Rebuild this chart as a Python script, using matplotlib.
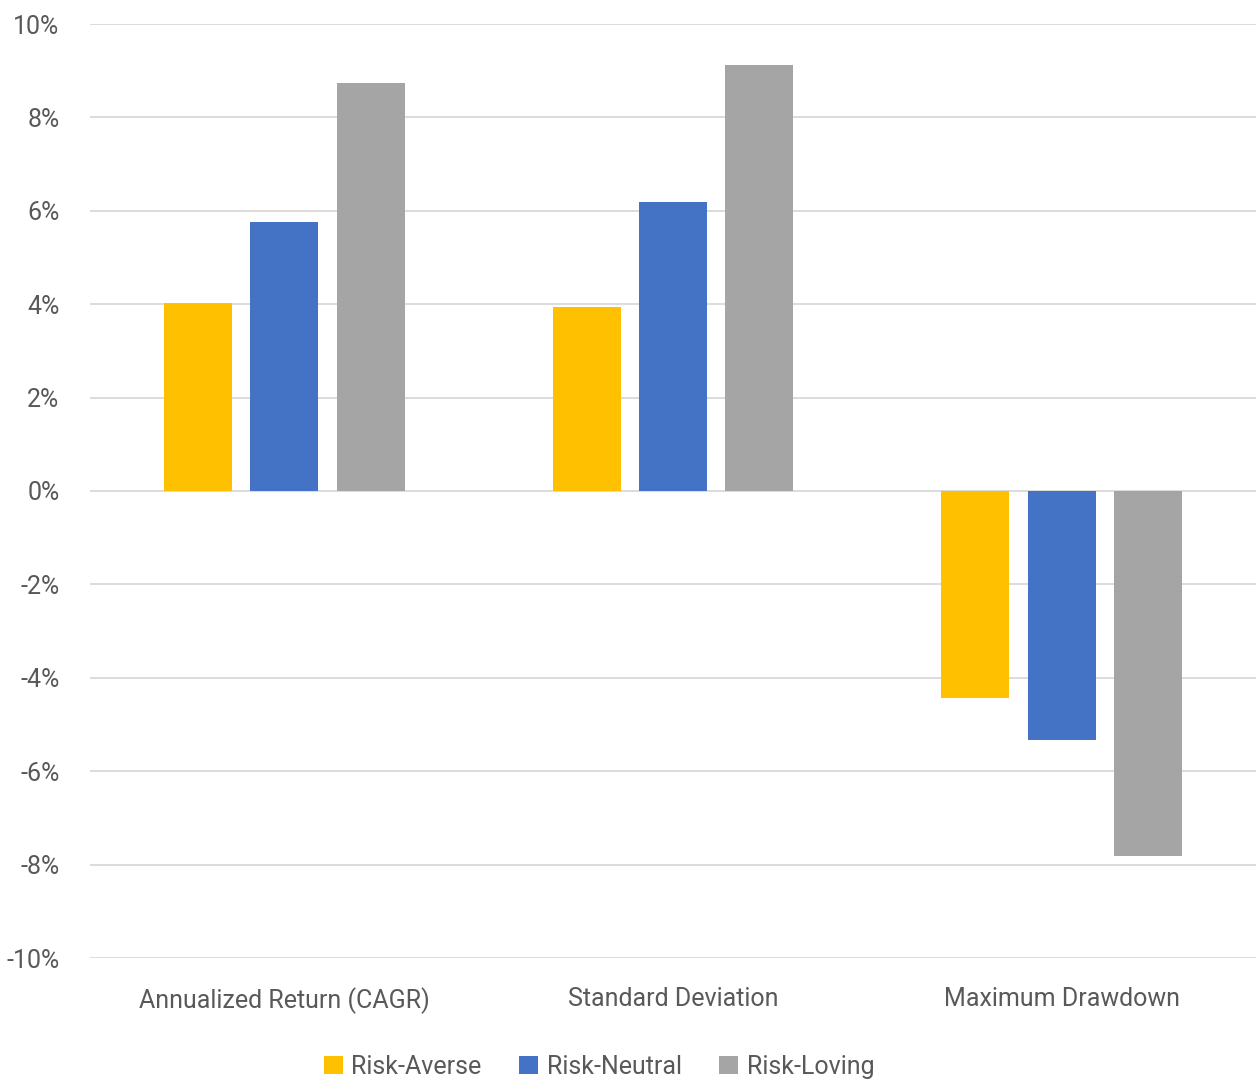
import matplotlib
matplotlib.use("Agg")
import matplotlib.pyplot as plt
import numpy as np
from matplotlib.ticker import FuncFormatter

categories = ["Annualized Return (CAGR)", "Standard Deviation", "Maximum Drawdown"]
series_names = ["Risk-Averse", "Risk-Neutral", "Risk-Loving"]
risk_averse = [4.03, 3.94, -4.43]
risk_neutral = [5.76, 6.19, -5.33]
risk_loving = [8.74, 9.12, -7.82]
colors = ["#FFC000", "#4472C4", "#A5A5A5"]

plt.rcParams['font.family'] = ['Roboto', 'DejaVu Sans']
text_color = "#595959"
fs = 18

fig = plt.figure(figsize=(12.56, 10.84), dpi=100)
ax = fig.add_axes([90/1256, (1084-958)/1084, (1256-90)/1256, (958-24)/1084])

x = np.arange(len(categories))
w = 0.175
step = 0.222
for i, (vals, name, c) in enumerate(zip([risk_averse, risk_neutral, risk_loving], series_names, colors)):
    ax.bar(x + (i-1)*step, vals, width=w, color=c, label=name, zorder=3)

ax.set_xlim(-0.5, 2.5)
ax.set_ylim(-10, 10)
ax.set_yticks(np.arange(-10, 11, 2))
ax.yaxis.set_major_formatter(FuncFormatter(lambda v, p: f"{int(round(v))}%"))
ax.grid(axis='y', color="#D9D9D9", linewidth=1.3, zorder=0)
for s in ax.spines.values():
    s.set_visible(False)
ax.tick_params(axis='both', length=0, colors=text_color, labelsize=fs)
ax.tick_params(axis='y', pad=22)
ax.tick_params(axis='x', pad=21)
ax.set_xticks(x)
ax.set_xticklabels(categories)
for t in ax.get_xticklabels() + ax.get_yticklabels():
    t.set_color(text_color)

leg = fig.legend(loc='center', bbox_to_anchor=(599/1256, 1 - 1067/1084), ncol=3, frameon=False,
                 fontsize=fs, handlelength=0.75, handleheight=0.75, handletextpad=0.35,
                 columnspacing=1.5)
for t in leg.get_texts():
    t.set_color(text_color)

fig.savefig("out.png", dpi=100)
